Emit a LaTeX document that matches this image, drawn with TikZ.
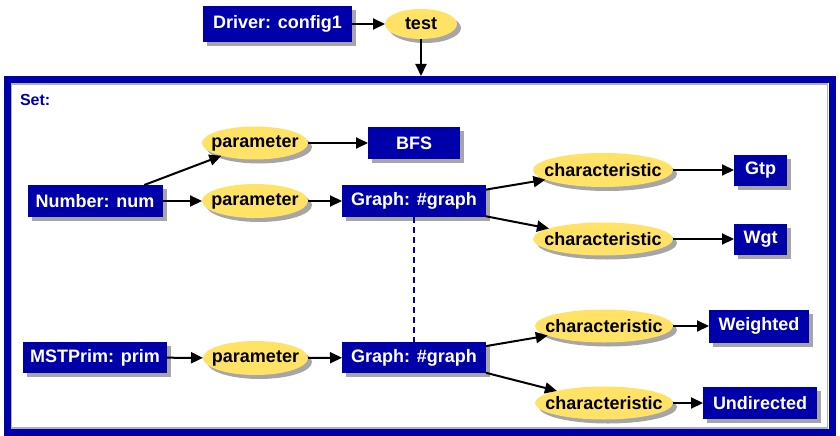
\documentclass[tikz,border=0pt]{standalone}
\usepackage{fontspec}
\setmainfont{Liberation Sans}
\usetikzlibrary{shapes.geometric,arrows.meta,shadows}
\definecolor{boxblue}{RGB}{0,0,170}
\definecolor{elly}{RGB}{255,226,102}
\begin{document}
\begin{tikzpicture}[x=1pt,y=-1pt,
  every node/.style={font=\fontsize{18}{20}\selectfont\bfseries, inner sep=0pt, outer sep=0pt},
  shad/.style={drop shadow={shadow xshift=4pt,shadow yshift=-4pt,fill=black!35,opacity=1}},
  bbox/.style={rectangle, fill=boxblue, text=white, shad},
  ell/.style={ellipse, fill=elly, text=black, shad},
  arr/.style={draw=black, line width=2pt, -{Triangle[length=12pt,width=11pt]}},
  link/.style={draw=boxblue, line width=2pt, dash pattern=on 6pt off 4pt},
  frame/.style={rectangle, draw=boxblue, line width=7pt, outer sep=3.5pt},
]
\useasboundingbox (0,0) rectangle (840,436);
% container
\node[frame, minimum width=825, minimum height=353] (set) at (419.5,256) {};
\draw[black!30, line width=1.2pt] (11.5,84) rectangle (827.5,428);
\node[anchor=west, text=boxblue, font=\fontsize{16}{18}\selectfont\bfseries] (setlbl) at (20,100) {Set:};
% top
\node[bbox, minimum width=149, minimum height=36] (drv) at (277.5,24) {Driver: config1};
\node[ell, minimum width=72, minimum height=30] (test) at (421,24) {\makebox[0pt]{test}};
% upper group
\node[ell, minimum width=106, minimum height=33] (par1) at (255,143) {\makebox[0pt]{parameter}};
\node[bbox, minimum width=92, minimum height=32] (bfs) at (414,143) {BFS};
\node[bbox, minimum width=135, minimum height=32] (num) at (95,201) {Number: num};
\node[ell, minimum width=106, minimum height=34] (par2) at (255,201) {\makebox[0pt]{parameter}};
\node[bbox, minimum width=144, minimum height=32] (g1) at (414,201) {Graph: \#graph};
\node[ell, minimum width=140, minimum height=34] (c1) at (603,170) {\makebox[0pt]{characteristic}};
\node[bbox, minimum width=53, minimum height=31] (gtp) at (760.5,170) {Gtp};
\node[ell, minimum width=140, minimum height=33] (c2) at (603,239) {\makebox[0pt]{characteristic}};
\node[bbox, minimum width=53, minimum height=31] (wgt) at (760.5,239) {Wgt};
% lower group
\node[bbox, minimum width=144, minimum height=31] (mst) at (95,357.5) {MSTPrim: prim};
\node[ell, minimum width=105, minimum height=34] (par3) at (255.5,358) {\makebox[0pt]{parameter}};
\node[bbox, minimum width=144, minimum height=31] (g2) at (414,357.5) {Graph: \#graph};
\node[ell, minimum width=138, minimum height=33] (c3) at (604,326) {\makebox[0pt]{characteristic}};
\node[bbox, minimum width=100, minimum height=33] (wtd) at (759,326) {Weighted};
\node[ell, minimum width=138, minimum height=33] (c4) at (604,403) {\makebox[0pt]{characteristic}};
\node[bbox, minimum width=114, minimum height=32] (und) at (760,403) {Undirected};
% connectors
\draw[arr] (drv) -- (test);
\draw[arr] (test) -- (test.south |- set.north);
\draw[arr] (num.18) -- (par1);
\draw[arr] (num) -- (par2);
\draw[arr] (par1) -- (bfs);
\draw[arr] (par2) -- (g1);
\draw[arr] (g1.9) -- (c1);
\draw[arr] (g1.-12) -- (c2);
\draw[arr] (c1) -- (gtp);
\draw[arr] (c2) -- (wgt);
\draw[arr] (mst) -- (par3);
\draw[arr] (par3) -- (g2);
\draw[arr] (g2.9) -- (c3);
\draw[arr] (g2.-12) -- (c4);
\draw[arr] (c3) -- (wtd);
\draw[arr] (c4) -- (und);
\draw[link] (g1) -- (g2);
\end{tikzpicture}
\end{document}
